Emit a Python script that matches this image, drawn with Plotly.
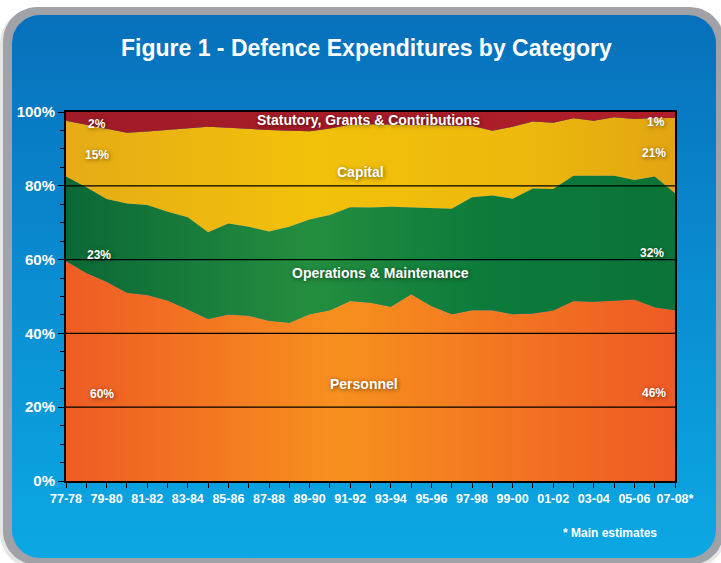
import numpy as np
import plotly.graph_objects as go

# ---------------- data ----------------
categories = ["77-78", "78-79", "79-80", "80-81", "81-82", "82-83", "83-84", "84-85",
              "85-86", "86-87", "87-88", "88-89", "89-90", "90-91", "91-92", "92-93",
              "93-94", "94-95", "95-96", "96-97", "97-98", "98-99", "99-00", "00-01",
              "01-02", "02-03", "03-04", "04-05", "05-06", "06-07", "07-08*"]

personnel = [59.6, 56.4, 54.0, 51.0, 50.4, 48.9, 46.5, 43.9, 45.1, 44.8, 43.4, 42.9,
             45.2, 46.3, 48.8, 48.3, 47.2, 50.6, 47.4, 45.2, 46.3, 46.3, 45.2, 45.4,
             46.2, 48.8, 48.6, 48.9, 49.2, 47.1, 46.3]
operations = [22.9, 23.2, 22.4, 24.2, 24.4, 24.1, 25.0, 23.5, 24.7, 24.1, 24.2, 26.0,
              25.7, 25.8, 25.4, 25.8, 27.1, 23.6, 26.7, 28.6, 30.6, 31.1, 31.3, 33.9,
              32.9, 33.9, 34.1, 33.8, 32.4, 35.4, 31.7]
capital = [15.1, 16.9, 19.2, 19.2, 19.9, 22.1, 24.0, 28.6, 25.9, 26.4, 27.5, 26.0,
           23.9, 23.4, 22.4, 22.6, 22.3, 22.3, 22.3, 22.5, 19.4, 17.5, 19.5, 18.1,
           18.0, 15.6, 14.9, 15.9, 16.5, 15.9, 20.4]
statutory = [2.4, 3.5, 4.4, 5.6, 5.3, 4.9, 4.5, 4.0, 4.3, 4.7, 4.9, 5.1,
             5.2, 4.5, 3.4, 3.3, 3.4, 3.5, 3.6, 3.7, 3.7, 5.1, 4.0, 2.6,
             2.9, 1.7, 2.4, 1.4, 1.9, 1.6, 1.6]

series_names = ["Personnel", "Operations & Maintenance", "Capital",
                "Statutory, Grants & Contributions"]
y_tick_values = [0, 20, 40, 60, 80, 100]
y_tick_labels = ["0%", "20%", "40%", "60%", "80%", "100%"]
title_text = "Figure 1 - Defence Expenditures by Category"
footnote = "* Main estimates"

# ---------------- geometry ----------------
W, H = 721, 563
PX0, PX1 = 66, 675      # plot area left/right in pixels
PY0, PY1 = 112, 481     # plot area top/bottom in pixels


def px(x):
    return x / W


def py(y):
    return 1 - y / H


def rounded_rect(x0, y0, x1, y1, r, n=14):
    xs, ys = [], []
    corners = [(x1 - r, y0 + r, -90, 0), (x1 - r, y1 - r, 0, 90),
               (x0 + r, y1 - r, 90, 180), (x0 + r, y0 + r, 180, 270)]
    for cx, cy, a0, a1 in corners:
        for a in np.linspace(np.radians(a0), np.radians(a1), n):
            xs.append(cx + r * np.cos(a))
            ys.append(cy + r * np.sin(a))
    xs.append(xs[0])
    ys.append(ys[0])
    return xs, ys


fig = go.Figure()

# background panel (full-figure axes x/y in pixel units)
sx, sy = rounded_rect(0, 9, 726, 568, 34)
fig.add_trace(go.Scatter(x=sx, y=sy, mode="lines", fill="toself",
                         fillcolor="rgba(0,0,0,0.10)", line=dict(width=0),
                         hoverinfo="skip", showlegend=False, xaxis="x", yaxis="y"))
gx, gy = rounded_rect(3, 7, 724, 565, 34)
fig.add_trace(go.Scatter(x=gx, y=gy, mode="lines", fill="toself",
                         fillcolor="#A0A2A7", line=dict(width=0),
                         hoverinfo="skip", showlegend=False, xaxis="x", yaxis="y"))
bx, by = rounded_rect(12, 15, 716, 558, 28)
fig.add_trace(go.Scatter(x=bx, y=by, mode="lines", fill="toself",
                         fillgradient=dict(type="vertical",
                                           colorscale=[[0, "#0BA8E4"], [0.55, "#0A8ACF"],
                                                       [1, "#0670BB"]]),
                         line=dict(width=0),
                         hoverinfo="skip", showlegend=False, xaxis="x", yaxis="y"))

# stacked areas
grads = [
    [[0, "#EE5C24"], [0.45, "#F7901E"], [1, "#EE5A24"]],
    [[0, "#0B6835"], [0.4, "#248E3F"], [0.7, "#0B7A3A"], [1, "#0B7436"]],
    [[0, "#E6AB16"], [0.4, "#F2C10A"], [0.75, "#EDB90C"], [1, "#E2A512"]],
    [[0, "#A01B25"], [0.5, "#A81D28"], [1, "#B01E28"]],
]
for name, vals, cs in zip(series_names, [personnel, operations, capital, statutory], grads):
    fig.add_trace(go.Scatter(
        x=categories, y=vals, name=name, stackgroup="one", mode="lines",
        line=dict(width=0), fillgradient=dict(type="horizontal", colorscale=cs),
        showlegend=False, xaxis="x2", yaxis="y2",
        hovertemplate="%{x}: %{y:.1f}%<extra>" + name + "</extra>"))

# gridlines drawn over the areas
for v in y_tick_values[1:-1]:
    fig.add_shape(type="line", xref="x2 domain", yref="y2", x0=0, x1=1, y0=v, y1=v,
                  line=dict(color="black", width=1.3), layer="above")

tick_text = [c if i % 2 == 0 else "" for i, c in enumerate(categories)]

fig.update_layout(
    width=W, height=H,
    margin=dict(l=0, r=0, t=0, b=0, pad=0, autoexpand=False),
    paper_bgcolor="white", plot_bgcolor="rgba(0,0,0,0)",
    xaxis=dict(domain=[0, 1], range=[0, W], visible=False, fixedrange=True,
               automargin=False),
    yaxis=dict(domain=[0, 1], range=[H, 0], visible=False, fixedrange=True,
               automargin=False),
    xaxis2=dict(domain=[px(PX0), px(PX1)], anchor="y2", type="category",
                range=[0, len(categories) - 1], automargin=False,
                tickmode="array", tickvals=categories, ticktext=tick_text,
                ticks="outside", ticklen=5, tickwidth=1, tickcolor="black",
                showgrid=False, showline=True, linecolor="black", linewidth=2,
                mirror=True, zeroline=False,
                tickfont=dict(family="Liberation Sans, Arial",
                              size=12.5, color="white", weight="bold"),
                tickangle=0),
    yaxis2=dict(domain=[py(PY1), py(PY0)], anchor="x2", range=[0, 100],
                automargin=False,
                tickmode="array", tickvals=y_tick_values, ticktext=y_tick_labels,
                ticks="outside", ticklen=6, tickwidth=1, tickcolor="black",
                minor=dict(dtick=5, ticks="outside", ticklen=4, tickcolor="black",
                           showgrid=False),
                showgrid=False, showline=True, linecolor="black", linewidth=2,
                mirror=True, zeroline=False,
                tickfont=dict(family="Liberation Sans, Arial", size=15,
                              color="white", weight="bold")),
    showlegend=False,
)

shadow = "1px 1px 4px rgba(0,0,0,0.55)"


def label(text, x, y, size, family="Liberation Sans, Arial", sh=shadow):
    fig.add_annotation(text=text, x=px(x), y=py(y), xref="paper", yref="paper",
                       showarrow=False, xanchor="center", yanchor="middle",
                       font=dict(family=family, size=size, color="white",
                                 weight="bold", shadow=sh))


label(title_text, 366, 48, 23, sh="none")
label(series_names[3], 368, 120, 14)
label(series_names[2], 360, 172, 14)
label(series_names[1], 380, 273, 14)
label(series_names[0], 364, 384, 14)
label("2%", 97, 124, 12)
label("15%", 97, 155, 12)
label("23%", 99, 255, 12)
label("60%", 102, 394, 12)
label("1%", 656, 122, 12)
label("21%", 654, 153, 12)
label("32%", 652, 253, 12)
label("46%", 654, 393, 12)
label(footnote, 610, 533, 12, sh="none")

fig.write_html("out.html")
